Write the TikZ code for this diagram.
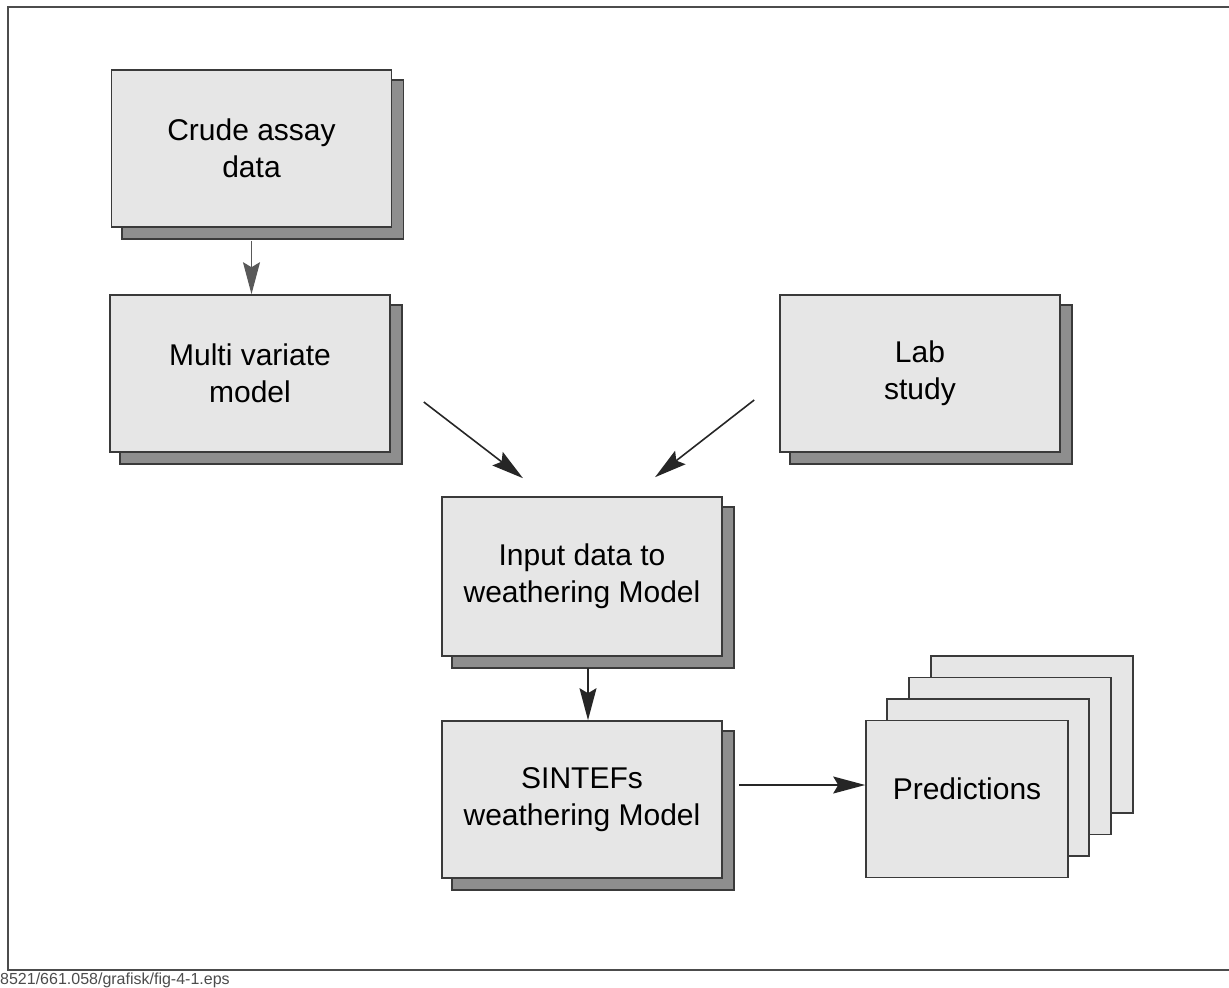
\documentclass[tikz,border=0pt]{standalone}
\usepackage{fontspec}
\setmainfont{Liberation Sans}
\usetikzlibrary{arrows.meta,backgrounds,calc}
\definecolor{boxfill}{HTML}{E6E6E6}
\definecolor{shadowfill}{HTML}{8E8E8E}
\definecolor{edge}{HTML}{3A3A3A}
\begin{document}
\begin{tikzpicture}[x=1pt,y=-1pt,
  box/.style={draw=edge, line width=1.6pt, fill=boxfill, minimum width=280pt,
    minimum height=157pt, inner sep=0pt, align=center,
    font=\fontsize{30}{37}\selectfont},
  predbox/.style={box, minimum width=202pt, minimum height=157pt},
  shadowbox/.style={draw=edge, line width=1.6pt, fill=shadowfill},
  arr/.style={draw=black!85, line width=1.6pt,
    -{Stealth[length=32pt,width=17pt,inset=5pt]}},
  framepen/.style={draw=black!70, line width=2.5pt}
]
\useasboundingbox (0,0) rectangle (1229,988);
% frame
\draw[framepen] (1229,7) -- (8,7) -- (8,970) -- (1229,970);

% main boxes
\node[box] (crude)  at (251.5,148.5) {Crude assay\\data};
\node[box] (multi)  at (250,373.5)   {Multi variate\\model};
\node[box] (lab)    at (920,373.5)   {Lab\\study};
\node[box, minimum height=159pt] (input) at (582,576.5) {Input data to\\weathering Model};
\node[box] (sintef) at (582,799.5)   {SINTEFs\\weathering Model};

% shadows
\begin{scope}[on background layer]
  \foreach \n in {crude,multi,lab,input,sintef}{
    \draw[shadowbox] ([shift={(11,11)}]\n.south west) rectangle ([shift={(11,11)}]\n.north east);
  }
\end{scope}

% predictions stack
\node[predbox] (p4) at (1032,734.5) {};
\node[predbox] (p3) at (1010,756)   {};
\node[predbox] (p2) at (988,777.5)  {};
\node[predbox] (p1) at (967,799)    {};
\node[font=\fontsize{30}{37}\selectfont] (predtext) at (967,789) {Predictions};

% connectors
\draw[arr, draw=black!65] ([shift={(0,13)}]crude.south) -- (crude.south |- multi.north);
\coordinate (m1) at ([shift={(33,28.5)}]multi.east);
\coordinate (m2) at ([shift={(-59,-18)}]input.north);
\draw[arr] (m1) -- (m2);
\coordinate (l1) at ([shift={(-25,26.5)}]lab.west);
\coordinate (l2) at ([shift={(73,-19)}]input.north);
\draw[arr] (l1) -- (l2);
\draw[arr] ([shift={(6,11)}]input.south) -- ([shift={(6,0)}]sintef.north);
\coordinate (s1) at ([shift={(16,-14.5)}]sintef.east);
\draw[arr] (s1) -- (s1 -| p1.west);

% footer
\node[anchor=west, inner sep=0pt, text=black!70, font=\fontsize{16}{16}\selectfont] (foot) at (0,980) {8521/661.058/grafisk/fig-4-1.eps};
\end{tikzpicture}
\end{document}
